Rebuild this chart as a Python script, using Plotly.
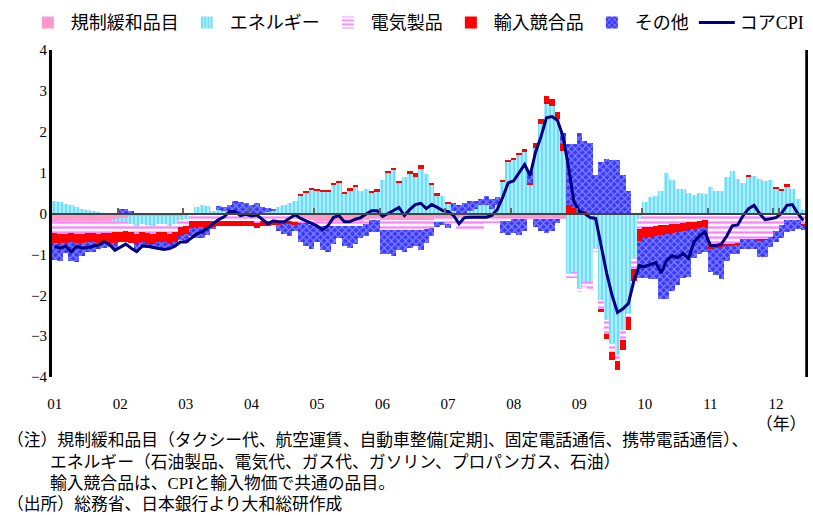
import pandas as pd
import plotly.graph_objects as go

# monthly, Jan 2001 - Jun 2012
months = [p.strftime("%Y-%m") for p in pd.period_range("2001-01", "2012-06", freq="M")]
year_starts = [m for m in months if m.endswith("-01")]
year_labels = [m[2:4] for m in year_starts]

regulated = [
    -0.18, -0.18, -0.18, -0.18, -0.18, -0.18, -0.18, -0.18, -0.18, -0.18, -0.18, -0.15,
    -0.12, -0.10, -0.05, -0.05, -0.05, -0.05, -0.05, -0.05, -0.05, -0.05, -0.05, -0.05,
    -0.04, -0.04, -0.03, -0.03, -0.03, -0.03, -0.03, -0.03, -0.03, -0.03, -0.03, -0.03,
    -0.03, -0.03, -0.03, -0.03, -0.03, -0.03, -0.03, -0.03, -0.10, -0.12, -0.12, -0.15,
    -0.18, -0.18, -0.18, -0.18, -0.18, -0.18, -0.18, -0.18, -0.18, -0.15, -0.10, -0.10,
    -0.15, -0.15, -0.15, -0.15, -0.15, -0.15, -0.15, -0.15, -0.15, -0.15, -0.12, -0.12,
    -0.10, -0.08, -0.08, -0.08, -0.08, -0.08, -0.08, -0.08, -0.08, -0.08, -0.08, -0.08,
    -0.08, -0.08, -0.08, -0.08, -0.08, -0.08, -0.08, -0.08, -0.08, -0.08, -0.03, -0.03,
    -0.03, -0.03, -0.03, -0.03, -0.03, -0.03, -0.03, -0.03, -0.03, -0.03, -0.03, -0.03,
    -0.02, -0.02, -0.02, -0.02, -0.02, -0.02, -0.02, -0.02, -0.02, -0.02, -0.02, -0.02,
    -0.02, -0.02, -0.02, -0.02, -0.02, -0.02, -0.02, -0.02, -0.02, -0.02, -0.02, -0.02,
    -0.02, -0.02, -0.02, -0.02, -0.02, -0.02,
]
energy = [
    0.30, 0.28, 0.24, 0.22, 0.15, 0.12, 0.08, 0.05, 0.03, 0.01, 0.00, -0.03,
    -0.08, -0.12, -0.20, -0.25, -0.20, -0.22, -0.25, -0.20, -0.20, -0.25, -0.20, -0.10,
    -0.10, 0.00, 0.15, 0.20, 0.18, 0.05, 0.08, 0.05, 0.05, 0.00, 0.02, 0.00,
    0.00, -0.05, 0.00, 0.03, 0.05, 0.15, 0.20, 0.25, 0.30, 0.45, 0.50, 0.58,
    0.55, 0.52, 0.52, 0.70, 0.74, 0.48, 0.56, 0.64, 0.54, 0.60, 0.52, 0.55,
    0.83, 1.00, 1.07, 0.74, 0.90, 0.97, 0.89, 1.09, 0.97, 0.70, 0.44, 0.44,
    0.25, 0.05, -0.05, 0.00, 0.05, 0.10, 0.20, 0.20, 0.10, 0.20, 0.78, 1.25,
    1.30, 1.42, 1.50, 0.70, 1.60, 2.19, 2.68, 2.64, 2.31, 1.54, -1.43, -1.39,
    -1.80, -1.64, -1.64, -0.82, -2.09, -2.58, -3.15, -3.43, -2.82, -2.41, -1.07, -0.10,
    0.29, 0.40, 0.44, 0.55, 0.99, 0.82, 0.60, 0.60, 0.50, 0.46, 0.50, 0.48,
    0.64, 0.56, 0.56, 0.90, 1.03, 0.85, 0.74, 0.90, 0.91, 0.85, 0.80, 0.82,
    0.62, 0.55, 0.66, 0.60, 0.36, 0.09,
]
electric = [
    -0.30, -0.31, -0.31, -0.30, -0.31, -0.31, -0.30, -0.30, -0.31, -0.30, -0.30, -0.28,
    -0.25, -0.22, -0.20, -0.20, -0.20, -0.20, -0.20, -0.20, -0.20, -0.20, -0.20, -0.18,
    -0.17, -0.15, -0.15, -0.15, -0.15, -0.15, -0.15, -0.15, -0.15, -0.15, -0.15, -0.15,
    -0.15, -0.15, -0.15, -0.15, -0.15, -0.15, -0.15, -0.15, -0.12, -0.12, -0.12, -0.12,
    -0.12, -0.12, -0.12, -0.12, -0.12, -0.12, -0.12, -0.12, -0.12, -0.10, -0.05, -0.05,
    -0.25, -0.25, -0.25, -0.25, -0.25, -0.25, -0.25, -0.25, -0.22, -0.20, -0.10, -0.10,
    -0.15, -0.15, -0.30, -0.30, -0.30, -0.30, -0.30, -0.15, -0.15, -0.15, -0.10, -0.10,
    -0.05, -0.05, -0.05, -0.05, -0.05, -0.05, -0.05, -0.05, -0.05, -0.05, -0.12, -0.15,
    -0.10, -0.12, -0.20, -0.10, -0.22, -0.33, -0.20, -0.16, -0.24, -0.08, -0.25, -0.25,
    -0.32, -0.30, -0.29, -0.27, -0.26, -0.24, -0.23, -0.21, -0.20, -0.18, -0.17, -0.15,
    -0.72, -0.72, -0.72, -0.72, -0.72, -0.70, -0.60, -0.60, -0.60, -0.62, -0.62, -0.55,
    -0.40, -0.25, -0.15, -0.15, -0.13, -0.23,
]
imports = [
    -0.24, -0.24, -0.22, -0.22, -0.24, -0.24, -0.22, -0.22, -0.22, -0.25, -0.25, -0.25,
    -0.25, -0.25, -0.27, -0.25, -0.25, -0.27, -0.25, -0.25, -0.25, -0.25, -0.25, -0.22,
    -0.20, -0.17, -0.16, -0.16, -0.15, -0.14, -0.13, -0.13, -0.13, -0.13, -0.13, -0.13,
    -0.13, -0.13, -0.12, -0.12, -0.10, -0.10, -0.08, -0.08, -0.05, 0.03, 0.05, 0.05,
    0.05, 0.05, 0.05, 0.05, 0.05, 0.05, 0.06, 0.05, 0.00, 0.00, 0.04, 0.04,
    0.00, 0.05, 0.05, 0.05, 0.00, 0.07, 0.10, 0.10, 0.00, 0.05, 0.05, 0.00,
    0.04, 0.00, 0.00, 0.00, 0.00, 0.00, 0.00, 0.00, 0.00, 0.00, 0.05, 0.05,
    0.05, 0.05, 0.07, 0.04, 0.13, 0.12, 0.20, 0.16, 0.18, 0.16, 0.20, 0.14,
    0.09, 0.05, 0.00, 0.00, -0.07, -0.12, -0.20, -0.20, -0.24, -0.33, -0.29, -0.29,
    -0.25, -0.25, -0.24, -0.23, -0.22, -0.21, -0.20, -0.19, -0.18, -0.17, -0.16, -0.15,
    -0.12, -0.10, -0.08, -0.05, -0.05, -0.05, 0.00, 0.04, 0.00, -0.03, -0.02, 0.00,
    0.04, 0.05, 0.05, 0.00, 0.00, -0.06,
]
others = [
    -0.42, -0.42, -0.25, -0.45, -0.45, -0.30, -0.25, -0.25, -0.15, -0.12, -0.10, -0.15,
    0.10, 0.10, 0.05, -0.20, -0.10, -0.10, -0.10, -0.15, -0.15, -0.10, -0.10, -0.10,
    -0.20, -0.20, -0.25, -0.25, -0.20, -0.05, 0.10, 0.10, 0.15, 0.30, 0.25, 0.25,
    0.20, 0.25, 0.15, 0.10, 0.05, -0.15, -0.25, -0.30, -0.15, -0.45, -0.55, -0.60,
    -0.40, -0.60, -0.65, -0.45, -0.30, -0.50, -0.55, -0.45, -0.30, -0.30, -0.30, -0.30,
    -0.60, -0.60, -0.65, -0.50, -0.55, -0.45, -0.40, -0.50, -0.35, -0.20, -0.10, -0.05,
    -0.10, 0.20, 0.20, 0.25, 0.25, 0.20, 0.15, 0.24, 0.25, 0.20, -0.30, -0.35,
    -0.35, -0.40, -0.30, 0.30, -0.20, -0.30, -0.35, -0.30, -0.10, 0.28, 1.51, 1.55,
    1.87, 1.73, 1.72, 0.93, 1.25, 1.34, 1.30, 1.30, 0.93, 0.55, 0.00, -0.90,
    -1.00, -1.03, -1.05, -1.57, -1.60, -1.42, -1.30, -1.17, -1.15, -0.72, -0.65, -0.63,
    -0.58, -0.66, -0.78, -0.36, -0.21, -0.21, -0.24, -0.24, -0.24, -0.40, -0.41, -0.25,
    -0.28, -0.33, -0.29, -0.27, -0.22, -0.10,
]
core_cpi = [
    -0.80, -0.85, -0.80, -0.94, -0.80, -0.85, -0.83, -0.80, -0.77, -0.69, -0.75, -0.90,
    -0.82, -0.75, -0.85, -0.93, -0.80, -0.80, -0.83, -0.86, -0.88, -0.86, -0.80, -0.70,
    -0.70, -0.60, -0.50, -0.45, -0.35, -0.25, -0.15, -0.08, 0.05, 0.05, -0.05, -0.02,
    -0.06, -0.04, -0.14, -0.25, -0.18, -0.20, -0.20, -0.12, -0.03, -0.12, -0.18, -0.25,
    -0.30, -0.40, -0.30, -0.10, -0.05, -0.20, -0.20, -0.14, -0.10, -0.01, 0.07, 0.07,
    -0.07, 0.00, 0.08, 0.15, -0.05, 0.10, 0.22, 0.25, 0.12, 0.22, 0.15, 0.07,
    0.05, -0.05, -0.25, -0.10, -0.09, -0.09, -0.09, -0.09, -0.05, 0.10, 0.40, 0.75,
    0.80, 1.00, 1.20, 0.93, 1.50, 1.88, 2.34, 2.37, 2.28, 1.90, 1.17, 0.30,
    0.05, 0.00, -0.10, -0.12, -0.80, -1.45, -2.00, -2.42, -2.33, -2.20, -1.64, -1.27,
    -1.30, -1.25, -1.20, -1.45, -1.15, -1.03, -1.08, -0.98, -1.10, -0.70, -0.55, -0.45,
    -0.78, -0.78, -0.75, -0.55, -0.30, -0.28, -0.05, 0.12, 0.20, 0.00, -0.15, -0.13,
    -0.10, 0.00, 0.20, 0.22, 0.00, -0.17,
]

FONT = "Liberation Serif, Noto Sans CJK JP, serif"

fig = go.Figure()
fig.add_trace(go.Bar(name="規制緩和品目", x=months, y=regulated,
                     marker=dict(color="#FF99CC", line_width=0)))
fig.add_trace(go.Bar(name="エネルギー", x=months, y=energy,
                     marker=dict(color="white", line_width=0,
                                 pattern=dict(shape="|", fgcolor="#00C4F4", bgcolor="#D8F8FF",
                                              size=4, solidity=0.7))))
fig.add_trace(go.Bar(name="電気製品", x=months, y=electric,
                     marker=dict(color="white", line_width=0,
                                 pattern=dict(shape="-", fgcolor="#FF00FF", bgcolor="white",
                                              size=5, solidity=0.45))))
fig.add_trace(go.Bar(name="輸入競合品", x=months, y=imports,
                     marker=dict(color="#FF0000", line_width=0)))
fig.add_trace(go.Bar(name="その他", x=months, y=others,
                     marker=dict(color="#3838FF", line_width=0,
                                 pattern=dict(shape="x", fgcolor="#D4D4FF", bgcolor="#3838FF",
                                              size=5, solidity=0.4))))
fig.add_trace(go.Scatter(name="コアCPI", x=months, y=core_cpi, mode="lines",
                         line=dict(color="#000080", width=3), xaxis="x2"))

fig.update_layout(
    width=813, height=515,
    margin=dict(l=52, r=7, t=50, b=138, autoexpand=False),
    barmode="relative", bargap=0,
    paper_bgcolor="white", plot_bgcolor="white",
    font=dict(family=FONT, size=15, color="black"),
    legend=dict(orientation="h", x=-0.036, y=1.14, xanchor="left", yanchor="top",
                font=dict(size=18), itemwidth=36, traceorder="normal",
                bgcolor="rgba(0,0,0,0)"),
    xaxis=dict(type="category", categoryorder="array", categoryarray=months,
               range=[-0.5, len(months) - 0.5], tickmode="array",
               tickvals=year_starts, ticktext=year_labels, ticks="",
               showgrid=False, showline=False, zeroline=False,
               ticklabelstandoff=16, tickfont=dict(size=15)),
    xaxis2=dict(type="category", categoryorder="array", categoryarray=months,
                overlaying="x", anchor="free", position=0.5, side="bottom",
                range=[-0.5, len(months) - 0.5], tickmode="array",
                tickvals=year_starts, tickson="boundaries", ticks="inside",
                ticklen=5, tickcolor="#666666", tickwidth=1.5,
                showticklabels=False, showgrid=False,
                showline=True, linecolor="#444444", linewidth=2),
    yaxis=dict(range=[-4, 4], dtick=1, showgrid=False, zeroline=False,
               showline=True, linecolor="black", linewidth=2, mirror=True,
               layer="above traces", ticks="", tickfont=dict(size=15)),
)

# plot frame: solid black strips on the left and right edges
fig.add_shape(type="rect", xref="paper", yref="paper", x0=-0.004, x1=0.0, y0=0, y1=1,
              fillcolor="black", line_width=0, layer="above")
fig.add_shape(type="rect", xref="paper", yref="paper", x0=0.999, x1=1.002, y0=0, y1=1,
              fillcolor="black", line_width=0, layer="above")

def px_x(px):
    return (px - 52) / 754

def px_y(py):
    return (377 - py) / 327

notes = [
    ("（注）規制緩和品目（タクシー代、航空運賃、自動車整備[定期]、固定電話通信、携帯電話通信）、", 5, 440),
    ("エネルギー（石油製品、電気代、ガス代、ガソリン、プロパンガス、石油）", 48, 462),
    ("輸入競合品は、CPIと輸入物価で共通の品目。", 48, 483),
    ("（出所）総務省、日本銀行より大和総研作成", 5, 504),
]
for text, nx, ny in notes:
    fig.add_annotation(text=text, xref="paper", yref="paper", x=px_x(nx), y=px_y(ny),
                       xanchor="left", yanchor="middle", showarrow=False,
                       font=dict(size=16.8))
fig.add_annotation(text="（年）", xref="paper", yref="paper", x=px_x(808), y=px_y(424),
                   xanchor="right", yanchor="middle", showarrow=False, font=dict(size=16.8))

# drop the default page margin so the figure sits at the window's corner
fig.write_html("out.html", config={"displayModeBar": False},
               post_script="document.body.style.margin = '0';")
